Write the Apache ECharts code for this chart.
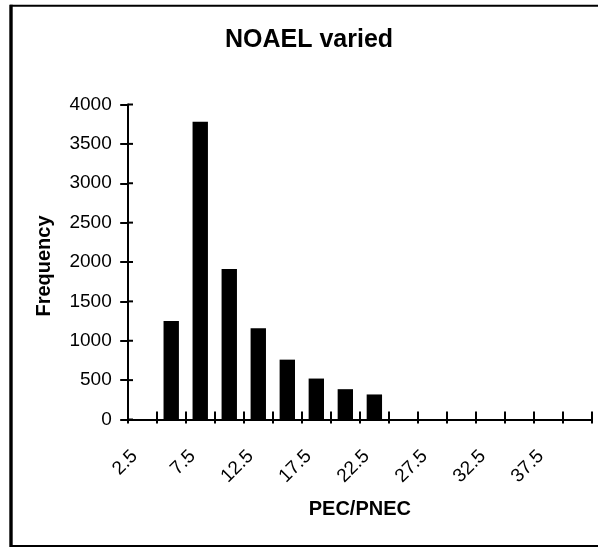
<!DOCTYPE html>
<html>
<head>
<meta charset="utf-8">
<script src="https://cdn.jsdelivr.net/npm/echarts@6/dist/echarts.min.js"></script>
<style>html,body{margin:0;padding:0;background:#fff}#c{width:598px;height:547px}</style>
</head>
<body>
<div id="c"></div>
<script>
const categories = ['2.5','5','7.5','10','12.5','15','17.5','20','22.5','25','27.5','30','32.5','35','37.5','40'];
const frequency = [0,1250,3780,1910,1160,760,520,385,318,0,0,0,0,0,0,0];
const yTicks = {min:0, max:4000, interval:500};
const titleText = 'NOAEL varied';
const xName = 'PEC/PNEC';
const yName = 'Frequency';

const yTickValues = [];
for (let v = yTicks.min; v <= yTicks.max; v += yTicks.interval) yTickValues.push([0, v]);

const font = 'Liberation Sans, Arial, sans-serif';
const chart = echarts.init(document.getElementById('c'), null, {renderer:'canvas'});
chart.setOption({
  animation:false,
  backgroundColor:'#fff',
  title:{text:titleText,left:220,top:23,
    textStyle:{fontFamily:font,fontSize:25,fontWeight:'bold',color:'#000'}},
  grid:{left:127.7,right:6,top:104.5,bottom:127.5,containLabel:false},
  xAxis:[{
    type:'category',data:categories,position:'bottom',
    name:xName,nameLocation:'middle',nameGap:80,
    nameTextStyle:{fontFamily:font,fontSize:20,fontWeight:'bold',color:'#000'},
    axisLine:{onZero:false,lineStyle:{color:'#000',width:2}},
    axisTick:{show:true,inside:false,length:4,interval:0,alignWithLabel:false,lineStyle:{color:'#000',width:2}},
    axisLabel:{interval:1,rotate:45,margin:26,padding:[0,11,0,0],fontFamily:font,fontSize:19,color:'#000'},
    splitLine:{show:false}
  },{
    type:'category',data:categories,position:'bottom',
    axisLine:{show:false,onZero:false},
    axisTick:{show:true,inside:true,length:8,interval:0,lineStyle:{color:'#000',width:2}},
    axisLabel:{show:false},splitLine:{show:false}
  }],
  yAxis:[{
    type:'value',min:yTicks.min,max:yTicks.max,interval:yTicks.interval,position:'left',
    name:yName,nameLocation:'middle',nameGap:73,
    nameTextStyle:{fontFamily:font,fontSize:20,fontWeight:'bold',color:'#000',padding:[0,8,0,0]},
    axisLine:{show:true,lineStyle:{color:'#000',width:2}},
    axisTick:{show:true,inside:false,length:7.5,lineStyle:{color:'#000',width:2}},
    axisLabel:{margin:16,fontFamily:font,fontSize:19,color:'#000',formatter:function(v){return String(v);}},
    splitLine:{show:false}
  }],
  series:[{
    type:'bar',data:frequency,xAxisIndex:0,yAxisIndex:0,
    barWidth:'53%',itemStyle:{color:'#000'},z:1
  },{
    type:'custom',xAxisIndex:0,yAxisIndex:0,data:yTickValues,silent:true,clip:false,z:3,
    renderItem:function(params, api){
      const p = api.coord([api.value(0), api.value(1)]);
      const w = api.size([1,0])[0];
      const x = p[0] - w/2;
      return {type:'line',shape:{x1:x,y1:p[1],x2:x+5.3,y2:p[1]},style:{stroke:'#000',lineWidth:2}};
    }
  }],
  graphic:[
    {type:'rect',shape:{x:11,y:5.7,width:700,height:540.3},style:{fill:null,stroke:'#000',lineWidth:2},silent:true},
    {type:'line',shape:{x1:11,y1:4.7,x2:11,y2:547},style:{stroke:'#000',lineWidth:3.4},silent:true}
  ]
});
</script>
</body>
</html>
